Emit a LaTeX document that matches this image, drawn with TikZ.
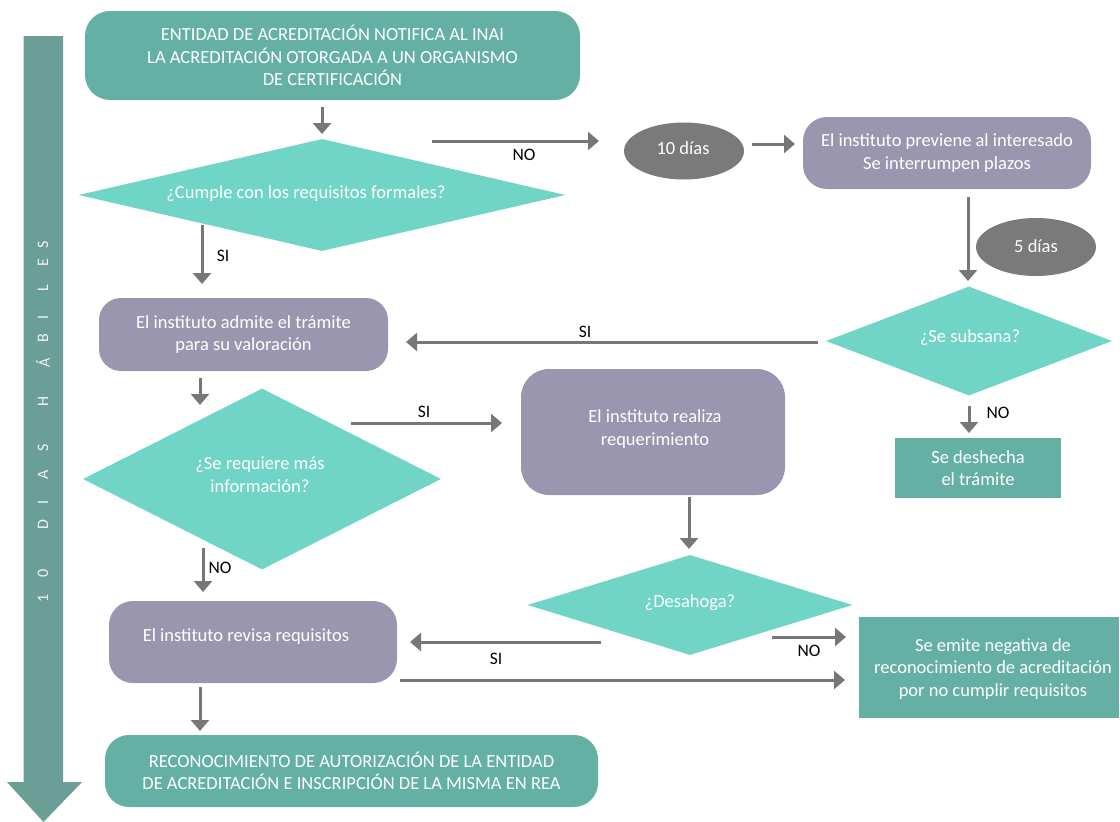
\documentclass[tikz,border=0pt]{standalone}
\usepackage{fontspec}
\setmainfont{Carlito}
\usetikzlibrary{shapes.geometric,arrows.meta}
\definecolor{tealbox}{RGB}{100,176,164}
\definecolor{tealdia}{RGB}{112,212,198}
\definecolor{purp}{RGB}{155,150,176}
\definecolor{grayell}{RGB}{122,122,122}
\definecolor{arrgray}{RGB}{119,119,119}
\definecolor{bigarr}{RGB}{106,158,150}
\begin{document}
\begin{tikzpicture}[x=1pt,y=-1pt,
  boxtxt/.style={text=white, font=\fontsize{18.5}{22.5}\selectfont, align=center, inner sep=0pt},
  rbox/.style={boxtxt, rounded corners=#1},
  rbox/.default=24pt,
  sbox/.style={boxtxt, fill=tealbox},
  dia/.style={diamond, fill=tealdia, inner sep=0pt, aspect=2},
  ell/.style={ellipse, fill=grayell, boxtxt},
  lab/.style={text=black, font=\fontsize{17.5}{20}\selectfont, inner sep=0pt},
  arr/.style={draw=arrgray, line width=3pt, -{Triangle[width=18pt,length=11pt]}},
  vtxt/.style={text=white, text opacity=0.9, font=\fontsize{16}{16}\selectfont, rotate=90, inner sep=0pt}
]
\useasboundingbox (0,0) rectangle (1120,822);

% big vertical arrow
\fill[bigarr] (23.5,36) -- (63,36) -- (63,782) -- (82,782) -- (43.5,822) -- (7,782) -- (23.5,782) -- cycle;
\foreach \c/\yy [count=\i] in {1/598, 0/573, D/525, I/502, A/475, S/448, H/402, Á/363, B/338, I/317, L/288, E/263, S/245}
  \node[vtxt] (v\i) at (43,\yy) {\c};

% nodes
\node[rbox=25pt, fill=tealbox, minimum width=495pt, minimum height=89pt] (top) at (332.5,55.5)
  {ENTIDAD DE ACREDITACIÓN NOTIFICA AL INAI\\LA ACREDITACIÓN OTORGADA A UN ORGANISMO\\DE CERTIFICACIÓN};
\node[dia, minimum width=487pt, minimum height=112pt] (d1) at (322,195) {};
\node[boxtxt] (d1t) at (306,194) {¿Cumple con los requisitos formales?};
\node[ell, minimum width=120pt, minimum height=57pt] (e10) at (684,151) {};
\node[boxtxt] (e10t) at (683,148) {10 días};
\node[rbox, fill=purp, minimum width=288pt, minimum height=72pt] (prev) at (947,153)
  {El instituto previene al interesado\\Se interrumpen plazos};
\node[ell, minimum width=120pt, minimum height=58pt] (e5) at (1036,247) {};
\node[boxtxt] (e5t) at (1036,246) {5 días};
\node[dia, minimum width=286pt, minimum height=109pt] (subs) at (969,341) {};
\node[boxtxt] (subst) at (970,338) {¿Se subsana?};
\node[sbox, minimum width=166pt, minimum height=60pt] (desh) at (978,468) {Se deshecha\\el trámite};
\node[rbox=22pt, fill=purp, minimum width=289pt, minimum height=73pt] (adm) at (243.5,334.5)
  {El instituto admite el trámite\\para su valoración};
\node[dia, minimum width=358pt, minimum height=181pt] (d2) at (262,479) {};
\node[boxtxt] (d2t) at (260,474.5) {¿Se requiere más\\información?};
\node[rbox=28pt, fill=purp, minimum width=264pt, minimum height=126pt] (real) at (653,432) {};
\node[boxtxt] (realt) at (655,429) {El instituto realiza\\requerimiento};
\node[dia, minimum width=325pt, minimum height=100pt] (desa) at (690,605) {};
\node[boxtxt] (desat) at (690,603) {¿Desahoga?};
\node[sbox, minimum width=260pt, minimum height=101pt] (neg) at (989,667.5) {};
\node[boxtxt] (negt) at (993,669) {Se emite negativa de\\reconocimiento de acreditación\\por no cumplir requisitos};
\node[rbox, fill=purp, minimum width=288pt, minimum height=82pt] (rev) at (253,642) {};
\node[boxtxt] (revt) at (246,637) {El instituto revisa requisitos};
\node[rbox, fill=tealbox, minimum width=493pt, minimum height=72pt] (fin) at (351.5,771)
  {RECONOCIMIENTO DE AUTORIZACIÓN DE LA ENTIDAD\\DE ACREDITACIÓN E INSCRIPCIÓN DE LA MISMA EN REA};

% connector ends
\coordinate (a1s) at (322,107);  \coordinate (a1e) at (322,134);
\coordinate (a2s) at (432,141);  \coordinate (a2e) at (599,141);
\coordinate (a3s) at (752,144);  \coordinate (a3e) at (795,144);
\coordinate (a4s) at (968,197);  \coordinate (a4e) at (968,281);
\coordinate (a5s) at (818,342);  \coordinate (a5e) at (406,342);
\coordinate (a6s) at (969,406);  \coordinate (a6e) at (969,433);
\coordinate (a7s) at (202,225);  \coordinate (a7e) at (202,284);
\coordinate (a8s) at (200,378);  \coordinate (a8e) at (200,405);
\coordinate (a9s) at (351,423);  \coordinate (a9e) at (502,423);
\coordinate (a10s) at (203,548); \coordinate (a10e) at (203,592);
\coordinate (a11s) at (689,497); \coordinate (a11e) at (689,549);
\coordinate (a12s) at (772,637); \coordinate (a12e) at (846,637);
\coordinate (a13s) at (601,642); \coordinate (a13e) at (410,642);
\coordinate (a14s) at (400,680); \coordinate (a14e) at (845,680);
\coordinate (a15s) at (200,687); \coordinate (a15e) at (200,731);

\draw[arr] (a1s) -- (a1e);
\draw[arr] (a2s) -- (a2e);
\draw[arr] (a3s) -- (a3e);
\draw[arr] (a4s) -- (a4e);
\draw[arr] (a5s) -- (a5e);
\draw[arr] (a6s) -- (a6e);
\draw[arr] (a7s) -- (a7e);
\draw[arr] (a8s) -- (a8e);
\draw[arr] (a9s) -- (a9e);
\draw[arr] (a10s) -- (a10e);
\draw[arr] (a11s) -- (a11e);
\draw[arr] (a12s) -- (a12e);
\draw[arr] (a13s) -- (a13e);
\draw[arr] (a14s) -- (a14e);
\draw[arr] (a15s) -- (a15e);

% labels
\node[lab] (l2) at (524,155) {NO};
\node[lab] (l5) at (585,332) {SI};
\node[lab] (l6) at (998,413) {NO};
\node[lab] (l7) at (223,256) {SI};
\node[lab] (l9) at (424,412) {SI};
\node[lab] (l10) at (220,568) {NO};
\node[lab] (l12) at (809,651) {NO};
\node[lab] (l13) at (496,659) {SI};
\end{tikzpicture}
\end{document}
